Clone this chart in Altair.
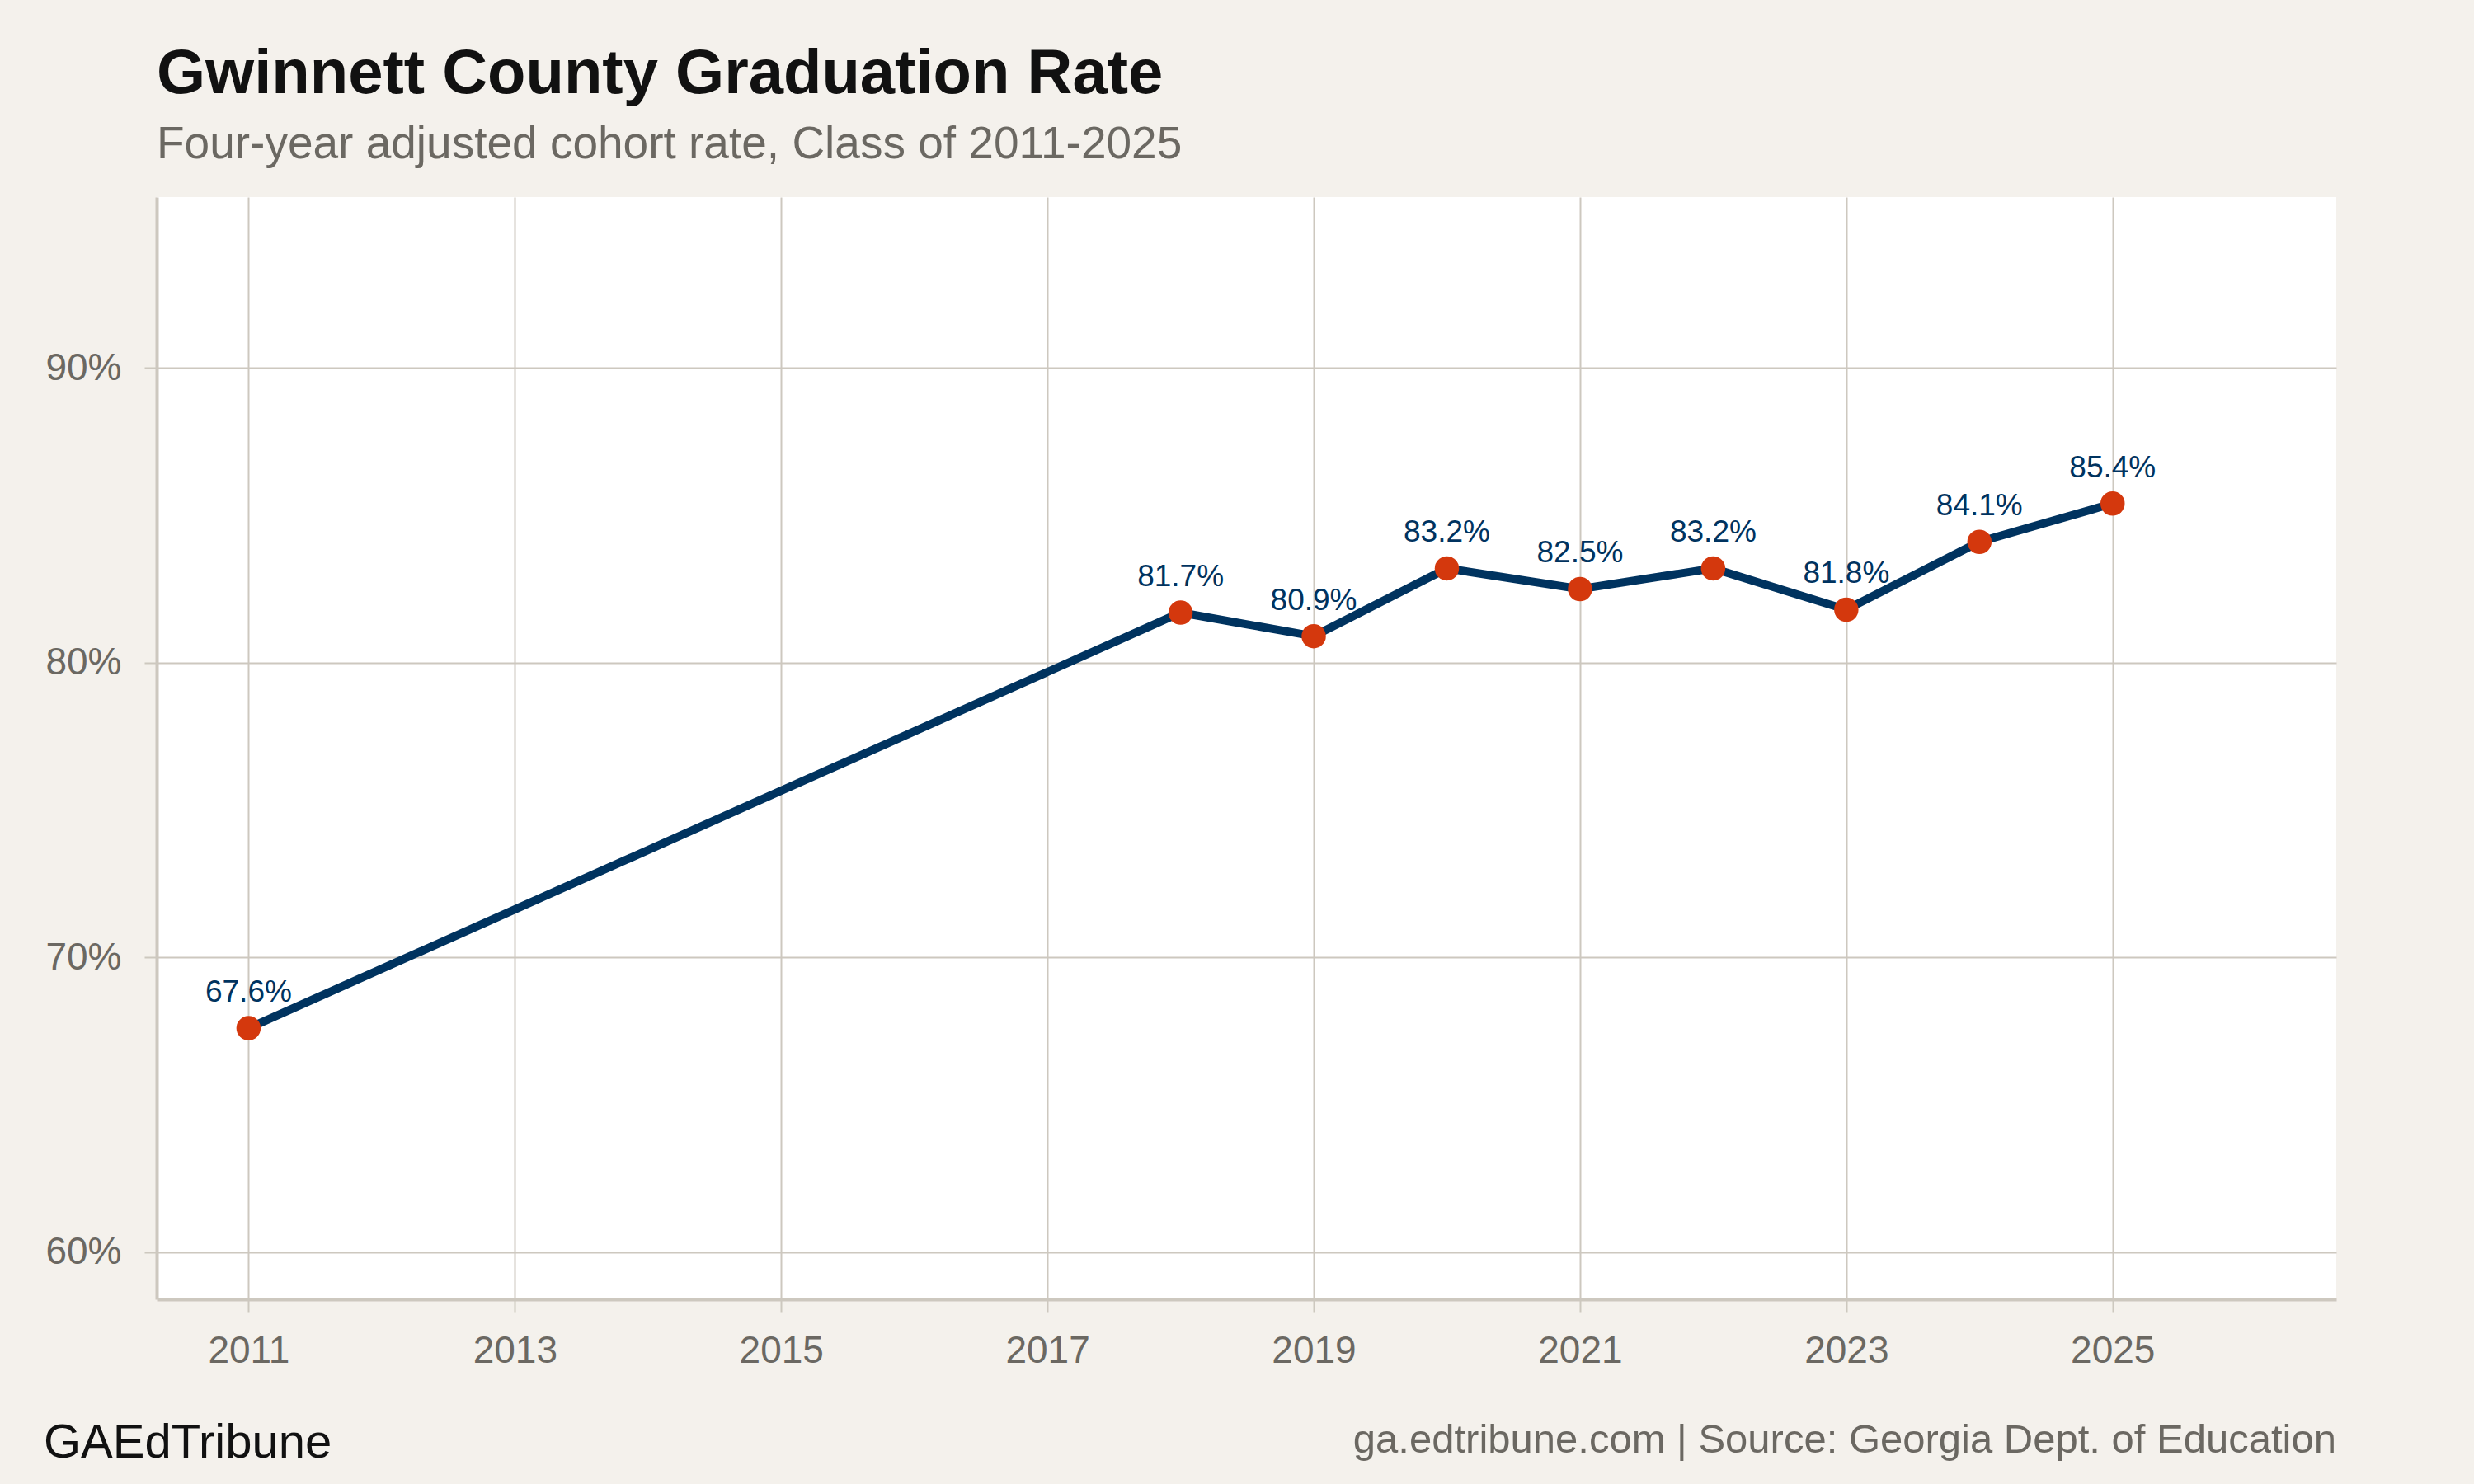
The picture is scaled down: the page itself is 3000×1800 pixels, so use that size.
import altair as alt
import pandas as pd

# Gwinnett County four-year adjusted cohort graduation rate (%)
years = [2011, 2018, 2019, 2020, 2021, 2022, 2023, 2024, 2025]
rates = [67.6, 81.7, 80.9, 83.2, 82.5, 83.2, 81.8, 84.1, 85.4]
x_ticks = [2011, 2013, 2015, 2017, 2019, 2021, 2023, 2025]
y_ticks = [60, 70, 80, 90]

BG = "#f4f1ec"
GRID = "#cdc8bf"
AXIS_TEXT = "#6b6862"
NAVY = "#00335f"
ORANGE = "#d4380d"
FONT = "Liberation Sans"

df = pd.DataFrame({"year": years, "rate": rates})
df["label"] = [f"{r:.1f}%" for r in rates]

W, H = 2643, 1337

x = alt.X(
    "year:Q",
    scale=alt.Scale(domain=[2010.31, 2026.68], nice=False, zero=False),
    axis=alt.Axis(
        values=x_ticks, format="d", title=None,
        labelFontSize=46, labelColor=AXIS_TEXT, labelFont=FONT, labelPadding=25,
        tickColor=GRID, tickWidth=2, tickSize=15,
        domainColor=GRID, domainWidth=4,
        gridColor=GRID, gridWidth=2,
    ),
)
y = alt.Y(
    "rate:Q",
    scale=alt.Scale(domain=[58.4, 95.8], nice=False, zero=False),
    axis=alt.Axis(
        values=y_ticks, labelExpr="datum.value + '%'", title=None,
        labelFontSize=46, labelColor=AXIS_TEXT, labelFont=FONT, labelPadding=28,
        tickColor=GRID, tickWidth=2, tickSize=15,
        domainColor=GRID, domainWidth=4,
        gridColor=GRID, gridWidth=2,
    ),
)

base = alt.Chart(df)

line = base.mark_line(color=NAVY, strokeWidth=10).encode(x=x, y=y)
points = base.mark_circle(color=ORANGE, opacity=1, size=870).encode(x=x, y=y)
labels = base.mark_text(
    color=NAVY, fontSize=37, font=FONT, baseline="alphabetic", dy=-32
).encode(x=x, y=y, text="label:N")

foot = pd.DataFrame({"k": [0]})
brand = alt.Chart(foot).mark_text(
    text="GAEdTribune", align="left", baseline="alphabetic",
    fontSize=58, font=FONT, color="#111111",
).encode(x=alt.value(-137), y=alt.value(1529))
source = alt.Chart(foot).mark_text(
    text="ga.edtribune.com | Source: Georgia Dept. of Education",
    align="right", baseline="alphabetic",
    fontSize=49, font=FONT, color=AXIS_TEXT,
).encode(x=alt.value(W), y=alt.value(1523))

chart = (
    alt.layer(line, points, labels, brand, source)
    .properties(
        width=W, height=H,
        background=BG,
        padding={"left": 190, "top": 239, "right": 167, "bottom": 224},
        autosize=alt.AutoSizeParams(type="none"),
        title=alt.Title(
            "Gwinnett County Graduation Rate",
            subtitle="Four-year adjusted cohort rate, Class of 2011-2025",
            anchor="start", frame="group", offset=35,
            font=FONT, fontSize=76, fontWeight="bold", color="#111111",
            subtitleFont=FONT, subtitleFontSize=55, subtitleColor=AXIS_TEXT,
            subtitlePadding=20,
        ),
    )
    .configure_view(fill="white", stroke=None)
)

chart.save("out.html", embed_options={"renderer": "svg", "actions": False})
